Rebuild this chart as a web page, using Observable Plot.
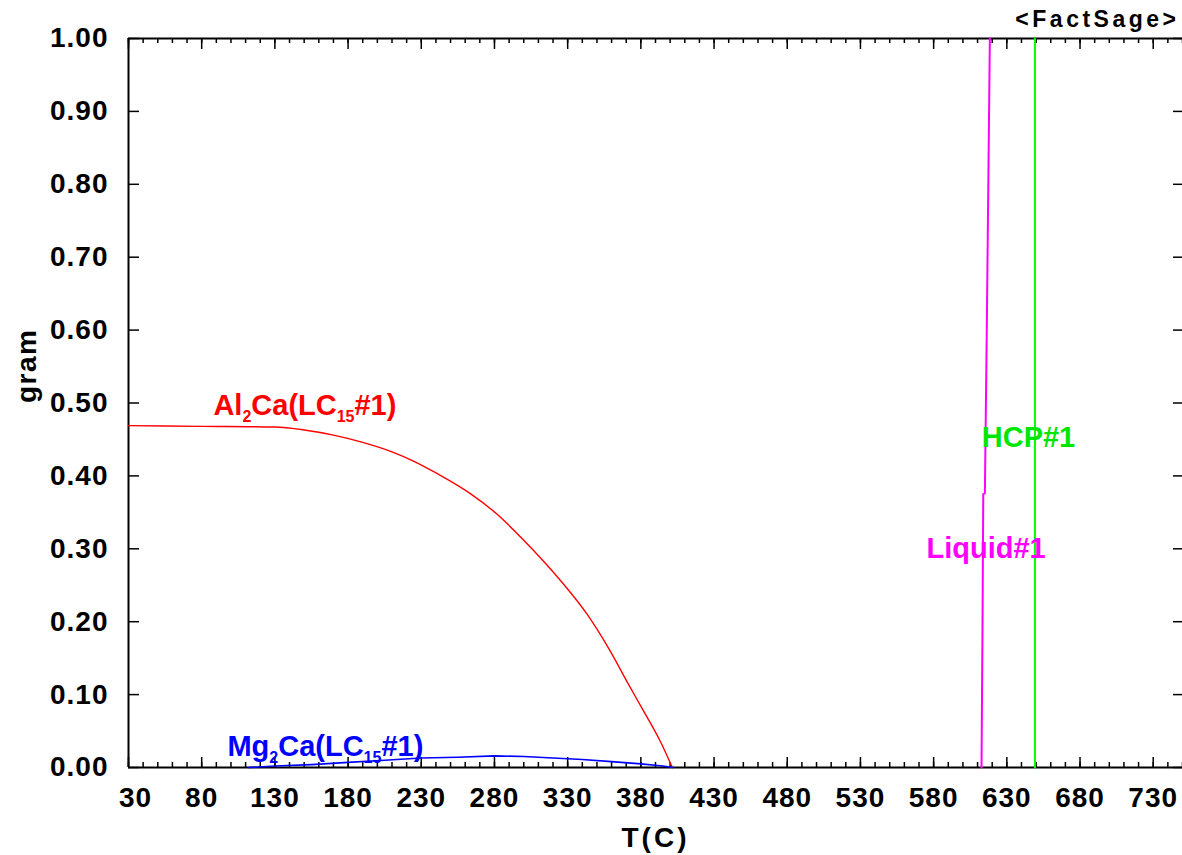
<!DOCTYPE html>
<html>
<head>
<meta charset="utf-8">
<script src="https://cdn.jsdelivr.net/npm/d3@7"></script>
<script src="https://cdn.jsdelivr.net/npm/@observablehq/plot@0.6"></script>
<style>
  html, body { margin: 0; padding: 0; background: #fff; }
  #chart { width: 1182px; height: 855px; overflow: hidden; }
</style>
</head>
<body>
<div id="chart"></div>
<script>
// ---- Data ----
// Al2Ca(LC15#1)
const alT = [30, 80, 130, 150, 170, 190, 210, 225, 241, 264, 282, 298, 314, 327, 343, 359, 371, 382, 393, 401.5];
const alG = [0.469, 0.468, 0.467, 0.463, 0.456, 0.446, 0.433, 0.420, 0.403, 0.375, 0.347, 0.316, 0.282, 0.252, 0.211, 0.160, 0.116, 0.077, 0.037, 0.000];
// Mg2Ca(LC15#1)
const mgT = [112, 130, 155, 180, 205, 230, 255, 280, 300, 320, 340, 360, 380, 395, 402];
const mgG = [0.000, 0.002, 0.004, 0.007, 0.010, 0.013, 0.014, 0.016, 0.015, 0.013, 0.011, 0.008, 0.005, 0.002, 0.000];
// Liquid#1
const liqT = [612.7, 613.4, 613.9, 615.0, 616.3, 618.4];
const liqG = [0.000, 0.200, 0.375, 0.376, 0.600, 1.000];
// HCP#1
const hcpT = [649.2, 649.2];
const hcpG = [0.000, 1.000];

// Axis ticks
const xTickLabels = [30, 80, 130, 180, 230, 280, 330, 380, 430, 480, 530, 580, 630, 680, 730];
const xMinorTicks = d3.range(30, 751, 10);
const yTickLabels = [0.00, 0.10, 0.20, 0.30, 0.40, 0.50, 0.60, 0.70, 0.80, 0.90, 1.00];

// Curve labels
const labelNames = ["Al2Ca(LC15#1)", "Mg2Ca(LC15#1)", "HCP#1", "Liquid#1"];
const labelT = [150.5, 164.5, 644.8, 615.8];
const labelG = [0.496, 0.029, 0.452, 0.300];
const labelColors = ["#ff0000", "#0000ff", "#00e600", "#ff00ff"];

const toRows = (xs, ys) => xs.map((t, i) => ({t, g: ys[i]}));
const labels = labelNames.map((n, i) => ({name: n, t: labelT[i], g: labelG[i], c: labelColors[i]}));

const innerH = 855 - 38 - 88;
const innerW = 1182 - 128;

const chart = Plot.plot({
  width: 1182,
  height: 855,
  marginLeft: 128,
  marginRight: 0,
  marginTop: 38,
  marginBottom: 88,
  x: {domain: [30, 750], axis: null},
  y: {domain: [0, 1], axis: null},
  style: {fontFamily: "'Liberation Sans', Arial, sans-serif", background: "#fff", color: "#000"},
  marks: [
    // axis lines
    Plot.ruleY([0], {stroke: "#000", strokeWidth: 2}),
    Plot.ruleY([1], {stroke: "#000", strokeWidth: 2}),
    Plot.ruleX([30], {stroke: "#000", strokeWidth: 2}),
    // bottom ticks (inward)
    Plot.ruleX(xMinorTicks, {stroke: "#000", strokeWidth: 1.5, insetTop: innerH - 5}),
    Plot.ruleX(xTickLabels, {stroke: "#000", strokeWidth: 1.5, insetTop: innerH - 10}),
    // top ticks (inward)
    Plot.ruleX(xMinorTicks, {stroke: "#000", strokeWidth: 1.5, insetBottom: innerH - 5}),
    Plot.ruleX(xTickLabels, {stroke: "#000", strokeWidth: 1.5, insetBottom: innerH - 11}),
    // left & right ticks
    Plot.ruleY(yTickLabels, {stroke: "#000", strokeWidth: 1.5, insetRight: innerW - 11}),
    Plot.ruleY(yTickLabels, {stroke: "#000", strokeWidth: 1.5, insetLeft: innerW - 9}),
    // tick labels
    Plot.text(xTickLabels, {x: d => d, text: d => String(d), frameAnchor: "bottom", dy: 31, lineAnchor: "middle",
      fontSize: 28, fontWeight: "bold", fill: "#000", className: "xtl"}),
    Plot.text(yTickLabels, {y: d => d, text: d => d.toFixed(2), frameAnchor: "left", dx: -20, textAnchor: "end",
      lineAnchor: "middle", fontSize: 28, fontWeight: "bold", fill: "#000", className: "ytl"}),
    // axis titles
    Plot.text(["T(C)"], {text: d => d, frameAnchor: "bottom", dy: 71, lineAnchor: "middle",
      fontSize: 28, fontWeight: "bold", fill: "#000", className: "ttl-x"}),
    Plot.text(["gram"], {text: d => d, frameAnchor: "left", dx: -101, rotate: -90, lineAnchor: "middle",
      fontSize: 28, fontWeight: "bold", fill: "#000", className: "ttl-y"}),
    Plot.text(["<FactSage>"], {text: d => d, frameAnchor: "top-right", dy: -19, dx: -3, textAnchor: "end",
      lineAnchor: "middle", fontSize: 23, fontWeight: "bold", fill: "#000", className: "ttl-fs"}),
    // data lines
    Plot.line(toRows(alT, alG), {x: "t", y: "g", stroke: "#ff0000", strokeWidth: 1.4, curve: "monotone-x"}),
    Plot.line(toRows(mgT, mgG), {x: "t", y: "g", stroke: "#0000ff", strokeWidth: 1.6}),
    Plot.line(toRows(liqT, liqG), {x: "t", y: "g", stroke: "#ff00ff", strokeWidth: 2}),
    Plot.line(toRows(hcpT, hcpG), {x: "t", y: "g", stroke: "#00ff00", strokeWidth: 2}),
    // curve labels
    Plot.text(labels, {x: "t", y: "g", text: "name", fill: "c", lineAnchor: "middle",
      fontSize: 29, fontWeight: "bold", className: "curve-lbl"})
  ]
});

document.getElementById("chart").appendChild(chart);

const root = d3.select(chart);
// letter spacing
root.selectAll(".ttl-x text").style("letter-spacing", "3px");
root.selectAll(".ttl-y text").style("letter-spacing", "1.5px");
root.selectAll(".ttl-fs text").style("letter-spacing", "3.5px");
root.selectAll(".xtl text, .ytl text").style("letter-spacing", "1px");
// first x tick label sits just inside the frame
root.select(".xtl text").attr("dx", 7);

// subscripts in the curve labels (Al2Ca, Mg2Ca, LC15)
root.selectAll(".curve-lbl text").each(function() {
  const el = d3.select(this);
  const s = el.text();
  const m = s.match(/^([A-Z][a-z]?)(\d+)(Ca\(LC)(\d+)(#1\))$/);
  if (!m) return;
  el.text(null);
  el.append("tspan").text(m[1]);
  el.append("tspan").attr("dy", 7).style("font-size", "16px").text(m[2]);
  el.append("tspan").attr("dy", -7).text(m[3]);
  el.append("tspan").attr("dy", 7).style("font-size", "16px").text(m[4]);
  el.append("tspan").attr("dy", -7).text(m[5]);
});
</script>
</body>
</html>
